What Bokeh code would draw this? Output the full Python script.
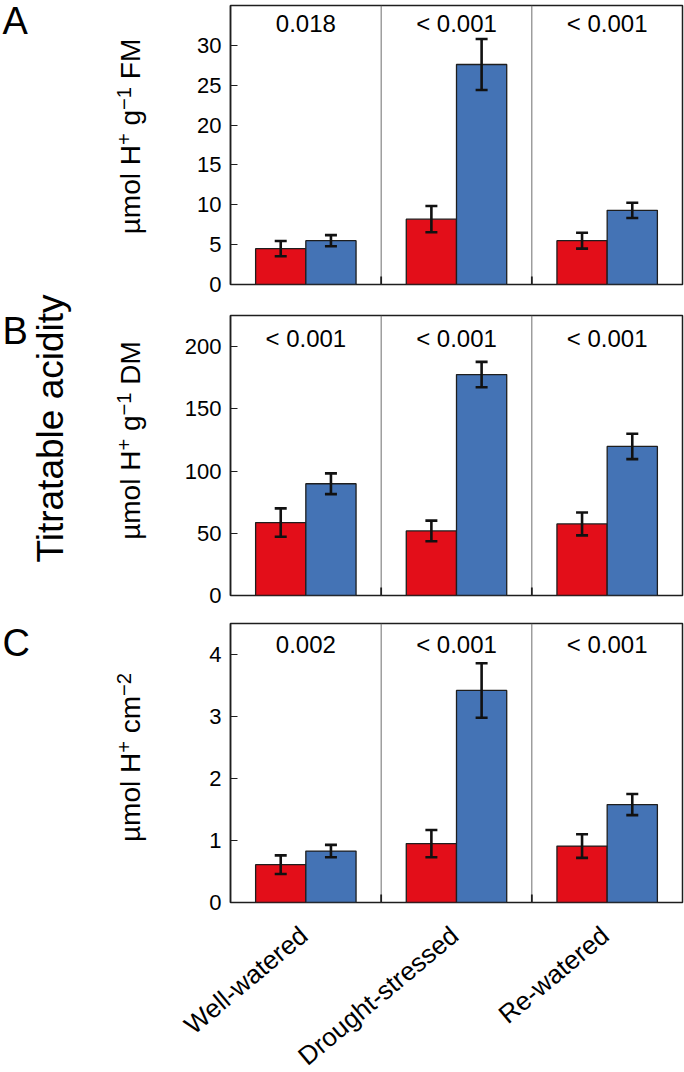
import math
from bokeh.plotting import figure
from bokeh.models import Range1d, FixedTicker, Whisker, TeeHead, ColumnDataSource
from bokeh.layouts import column, row
from bokeh.core.properties import value
from bokeh.embed import file_html
from bokeh.resources import INLINE

# ---------------- data ----------------
categories = ["Well-watered", "Drought-stressed", "Re-watered"]

fm_red = [4.5, 8.2, 5.5]
fm_red_err = [0.95, 1.65, 1.0]
fm_blue = [5.5, 27.6, 9.3]
fm_blue_err = [0.7, 3.2, 0.95]
fm_p = ["0.018", "< 0.001", "< 0.001"]

dm_red = [58.6, 51.9, 57.5]
dm_red_err = [11.4, 8.3, 9.2]
dm_blue = [89.8, 177.5, 119.8]
dm_blue_err = [8.3, 10.2, 10.2]
dm_p = ["< 0.001", "< 0.001", "< 0.001"]

area_red = [0.61, 0.95, 0.91]
area_red_err = [0.15, 0.22, 0.19]
area_blue = [0.83, 3.42, 1.58]
area_blue_err = [0.10, 0.44, 0.17]
area_p = ["0.002", "< 0.001", "< 0.001"]

fm_ticks = [0, 5, 10, 15, 20, 25, 30]
dm_ticks = [0, 50, 100, 150, 200]
area_ticks = [0, 1, 2, 3, 4]

panel_letters = ["A", "B", "C"]
# y titles as (text, is_superscript) pieces
ytitle_fm = [("\u00b5mol H", False), ("+", True), (" g", False),
             ("\u22121", True), (" FM", False)]
ytitle_dm = [("\u00b5mol H", False), ("+", True), (" g", False),
             ("\u22121", True), (" DM", False)]
ytitle_area = [("\u00b5mol H", False), ("+", True), (" cm", False),
               ("\u22122", True)]
main_title = "Titratable acidity"

# ---------------- style ----------------
FONT = "Liberation Sans"
RED = "#E30E19"
BLUE = "#4473B5"
DARK = "#1e1e1e"
PAGE_W = 684
SIDE_W = 180
W = PAGE_W - SIDE_W
LEFT = 50
RIGHT = 2
FRAME_W = W - LEFT - RIGHT
FRAME_X0 = SIDE_W + LEFT
PX = FRAME_W / 3.0

# Arial / Liberation Sans advance widths (em/1000)
ADV = {"\u00b5": 576, "m": 833, "o": 556, "l": 222, " ": 278, "H": 722,
       "+": 584, "g": 556, "\u2212": 584, "1": 556, "2": 556, "F": 611,
       "M": 833, "D": 722, "c": 500}


def text_w(s, size):
    return sum(ADV.get(ch, 556) for ch in s) / 1000.0 * size


def make_panel(red, red_err, blue, blue_err, pvals, ymax, ticks,
               height, btop, bbottom, p_off):
    frame_h = height - btop - bbottom
    p = figure(width=W, height=height, output_backend="svg",
               toolbar_location=None, x_range=Range1d(0, 3),
               y_range=Range1d(0, ymax), min_border=0)
    p.min_border_left = LEFT
    p.min_border_right = RIGHT
    p.min_border_top = btop
    p.min_border_bottom = bbottom
    p.xgrid.visible = False
    p.ygrid.visible = False
    p.outline_line_color = DARK
    p.outline_line_width = 1.5

    n = len(categories)
    xr = [i + 1.0 / 3 for i in range(n)]
    xb = [i + 2.0 / 3 for i in range(n)]
    # group separators
    p.segment(x0=[1, 2], y0=[0, 0], x1=[1, 2], y1=[ymax, ymax],
              line_color="#6e6e6e", line_width=1)
    tick_h = 8 / frame_h * ymax
    p.segment(x0=[1, 2], y0=[0, 0], x1=[1, 2], y1=[tick_h, tick_h],
              line_color=DARK, line_width=1.8)

    p.vbar(x=xr, top=red, width=1.0 / 3, fill_color=RED,
           line_color=DARK, line_width=1.3)
    p.vbar(x=xb, top=blue, width=1.0 / 3, fill_color=BLUE,
           line_color=DARK, line_width=1.3)

    src = ColumnDataSource(dict(
        x=xr + xb,
        lo=[v - e for v, e in zip(red, red_err)] + [v - e for v, e in zip(blue, blue_err)],
        hi=[v + e for v, e in zip(red, red_err)] + [v + e for v, e in zip(blue, blue_err)],
    ))
    wk = Whisker(base="x", lower="lo", upper="hi", source=src, level="overlay",
                 line_color="#111111", line_width=2.6,
                 upper_head=TeeHead(size=12, line_width=2.6, line_color="#111111"),
                 lower_head=TeeHead(size=12, line_width=2.6, line_color="#111111"))
    p.add_layout(wk)

    p.text(x=[i + 0.5 for i in range(n)], y=[ymax] * n, text=pvals,
           text_align="center", text_baseline="alphabetic", y_offset=p_off,
           text_font=value(FONT), text_font_size="24px", text_color="black")

    ya = p.yaxis[0]
    ya.ticker = FixedTicker(ticks=ticks, minor_ticks=[])
    ya.major_tick_in = 7
    ya.major_tick_out = 0
    ya.minor_tick_in = 0
    ya.minor_tick_out = 0
    ya.major_tick_line_color = DARK
    ya.major_tick_line_width = 1.2
    ya.axis_line_color = DARK
    ya.axis_line_width = 1.5
    ya.major_label_standoff = 9
    ya.major_label_text_font = FONT
    ya.major_label_text_font_size = "22px"
    ya.major_label_text_color = "black"
    p.xaxis.visible = False
    return p


pA = make_panel(fm_red, fm_red_err, fm_blue, fm_blue_err, fm_p, 35, fm_ticks,
                height=298, btop=5, bbottom=14, p_off=18)
pB = make_panel(dm_red, dm_red_err, dm_blue, dm_blue_err, dm_p, 225, dm_ticks,
                height=311, btop=17, bbottom=14, p_off=23)
pC = make_panel(area_red, area_red_err, area_blue, area_blue_err, area_p, 4.5,
                area_ticks, height=306, btop=14, bbottom=13, p_off=21)

TOP_H = 298 + 311 + 306
BOT_H = 1072 - TOP_H

# side panel holding the panel letters and rotated titles
side = figure(width=SIDE_W, height=TOP_H, output_backend="svg",
              toolbar_location=None, x_range=Range1d(0, SIDE_W),
              y_range=Range1d(0, TOP_H), min_border=0)
side.axis.visible = False
side.xgrid.visible = False
side.ygrid.visible = False
side.outline_line_color = None

side.text(x=[2, 2, 2], y=[TOP_H - 20, TOP_H - 330, TOP_H - 642],
          text=panel_letters, text_align="left", text_baseline="alphabetic",
          text_font=value(FONT), text_font_size="38px", text_color="black")

side.text(x=[50], y=[TOP_H - 428], text=[main_title], angle=math.pi / 2,
          text_align="center", text_baseline="alphabetic",
          text_font=value(FONT), text_font_size="37px", text_color="black")

F = 28
FS = 0.72 * F
BASE = 143          # visual baseline (screen x) of the rotated titles
SUP_UP = 0.38 * F   # superscript raise


def rotated_title(pieces, center_y):
    total = sum(text_w(t, FS if sup else F) for t, sup in pieces)
    pos = center_y + total / 2.0   # page y where the text starts (bottom)
    xs, ys, txt, sizes = [], [], [], []
    for t, sup in pieces:
        size = FS if sup else F
        lead = len(t) - len(t.lstrip(" "))
        pos -= text_w(" " * lead, size)
        t = t.strip(" ")
        vis = BASE - (SUP_UP if sup else 0)
        xs.append(vis - 0.45 * size)
        ys.append(TOP_H - pos)
        txt.append(t)
        sizes.append("%.1fpx" % size)
        pos -= text_w(t, size)
    src = ColumnDataSource(dict(x=xs, y=ys, text=txt, size=sizes))
    side.text(x="x", y="y", text="text", source=src, angle=math.pi / 2,
              text_align="left", text_baseline="alphabetic",
              text_font=value(FONT), text_font_size="size",
              text_color="black")


rotated_title(ytitle_fm, 136)
rotated_title(ytitle_dm, 440)
rotated_title(ytitle_area, 757)

# bottom strip with the rotated category labels, on the same x scale as
# the panels above
bottom = figure(width=PAGE_W, height=BOT_H, output_backend="svg",
                toolbar_location=None,
                x_range=Range1d(-FRAME_X0 / PX, (PAGE_W - FRAME_X0) / PX),
                y_range=Range1d(0, BOT_H), min_border=0)
bottom.axis.visible = False
bottom.xgrid.visible = False
bottom.ygrid.visible = False
bottom.outline_line_color = None
bottom.text(x=[i + 0.5 - 2 / PX for i in range(len(categories))],
            y=[1072 - 931] * len(categories), text=categories,
            angle=math.radians(40), text_align="right",
            text_baseline="alphabetic", text_font=value(FONT),
            text_font_size="26px", text_color="black")

layout = column(row(side, column(pA, pB, pC, spacing=0), spacing=0),
                bottom, spacing=0)
open("out.html", "w").write(file_html(layout, INLINE))
